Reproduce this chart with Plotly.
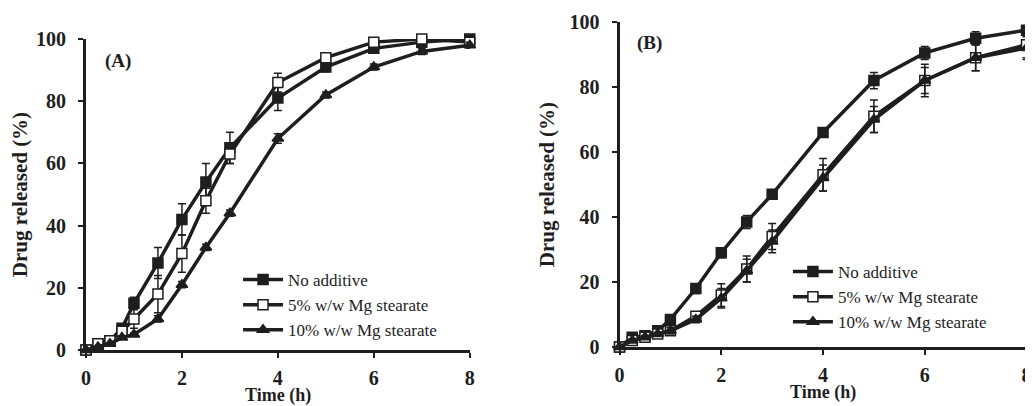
import plotly.graph_objects as go

time_h = [0, 0.25, 0.5, 0.75, 1, 1.5, 2, 2.5, 3, 4, 5, 6, 7, 8]

# Panel A
a_none = [0, 2, 3, 7, 15, 28, 42, 54, 65, 81, 91, 97, 99, 100]
a_none_err = [0, 0.5, 0.5, 1, 2, 5, 5, 6, 5, 4, 1.5, 1, 0.5, 0.5]
a_5 = [0, 2, 3, 6, 10, 18, 31, 48, 63, 86, 94, 99, 100, 99]
a_5_err = [0, 0.5, 0.5, 1, 3, 6, 6, 4, 3, 3, 1.5, 1, 0.5, 0.5]
a_10 = [0, 1, 2, 4, 5, 10, 21, 33, 44, 68, 82, 91, 96, 98]
a_10_err = [0, 0.3, 0.3, 0.5, 0.5, 1, 1, 1, 1, 1.5, 1, 1, 1, 1]

# Panel B
b_none = [0, 3, 3.5, 5, 8.5, 18, 29, 38.5, 47, 66, 82, 90.5, 95, 97.5]
b_none_err = [0, 0.5, 0.5, 0.5, 1, 1.5, 1.5, 2, 1, 1, 2.5, 2, 2, 1]
b_5 = [0, 2, 3, 4, 5, 9.5, 16, 24, 34, 53, 71, 82, 89, 93]
b_5_err = [0, 0.5, 0.5, 0.5, 1, 1, 3.5, 4, 4, 5, 5, 5, 4, 4]
b_10 = [0, 2, 3, 4, 5, 8.5, 15, 23.5, 32.5, 52, 70, 82, 89, 92]
b_10_err = [0, 0.5, 0.5, 0.5, 1, 1, 3, 3.5, 3.5, 4, 4, 4, 4, 3.5]

series_names = ["No additive", "5% w/w Mg stearate", "10% w/w Mg stearate"]
panel_labels = ["(A)", "(B)"]
x_ticks = [0, 2, 4, 6, 8]
y_ticks = [0, 20, 40, 60, 80, 100]
x_title = "Time (h)"
y_title = "Drug released (%)"

INK = "#1e1e1e"
SERIF = "Liberation Serif, Times New Roman, serif"

fig = go.Figure()

marker_styles = [("square", INK), ("square", "white"), ("triangle-up", INK)]
panels = [
    ([a_none, a_5, a_10], [a_none_err, a_5_err, a_10_err], "x", "y", "legend"),
    ([b_none, b_5, b_10], [b_none_err, b_5_err, b_10_err], "x2", "y2", "legend2"),
]
for vals, errs, xa, ya, lg in panels:
    for name, v, e, (sym, fill) in zip(series_names, vals, errs, marker_styles):
        fig.add_trace(go.Scatter(
            x=time_h, y=v, name=name, mode="lines+markers",
            xaxis=xa, yaxis=ya, legend=lg,
            line=dict(color=INK, width=3.5),
            marker=dict(symbol=sym, size=10, color=fill,
                        line=dict(color=INK, width=1.5)),
            error_y=dict(type="data", array=e, color=INK, thickness=1.5, width=4),
            cliponaxis=False,
        ))

axis_common = dict(
    showgrid=False, zeroline=False, showline=True, linecolor=INK, linewidth=3,
    ticks="outside", ticklen=5, tickwidth=2, tickcolor=INK, automargin=False,
    tickfont=dict(family=SERIF, size=20, color=INK),
)
ytitle = dict(text=f"<b>{y_title}</b>", font=dict(family=SERIF, size=21, color=INK), standoff=10)

fig.update_layout(
    width=1033, height=406,
    margin=dict(l=0, r=0, t=0, b=0, autoexpand=False),
    paper_bgcolor="white", plot_bgcolor="white",
    showlegend=True,
    xaxis=dict(domain=[0.0755, 0.447], range=[0, 8], tickvals=x_ticks, ticklabelstandoff=3,
               ticktext=[f"<b>{t}</b>" for t in x_ticks], anchor="y", **axis_common),
    yaxis=dict(domain=[0.1576, 0.9236], range=[0, 100], tickvals=y_ticks, ticklabelstandoff=8,
               ticktext=[f"<b>{t}</b>" for t in y_ticks], title=ytitle, anchor="x", **axis_common),
    xaxis2=dict(domain=[0.592, 0.986], range=[0, 8], tickvals=x_ticks, ticklabelstandoff=3,
                ticktext=[f"<b>{t}</b>" for t in x_ticks], anchor="y2", **axis_common),
    yaxis2=dict(domain=[0.165, 0.9655], range=[0, 100], tickvals=y_ticks, ticklabelstandoff=8,
                ticktext=[f"<b>{t}</b>" for t in y_ticks], title=ytitle, anchor="x2", **axis_common),
    legend=dict(x=0.2227, y=0.2685, xanchor="left", yanchor="middle", bgcolor="rgba(0,0,0,0)",
                font=dict(family=SERIF, size=17, color=INK), itemwidth=40, tracegroupgap=0),
    legend2=dict(x=0.755, y=0.288, xanchor="left", yanchor="middle", bgcolor="rgba(0,0,0,0)",
                 font=dict(family=SERIF, size=17, color=INK), itemwidth=40, tracegroupgap=0),
    annotations=[
        dict(text=f"<b>{panel_labels[0]}</b>", x=0.35, y=93, xref="x", yref="y", showarrow=False,
             xanchor="left", yanchor="middle", font=dict(family=SERIF, size=19, color=INK)),
        dict(text=f"<b>{panel_labels[1]}</b>", x=0.3, y=93.5, xref="x2", yref="y2", showarrow=False,
             xanchor="left", yanchor="middle", font=dict(family=SERIF, size=19, color=INK)),
        dict(text=f"<b>{x_title}</b>", x=0.5, y=0.045, xref="x domain", yref="paper", showarrow=False,
             xanchor="center", yanchor="middle", font=dict(family=SERIF, size=18, color=INK)),
        dict(text=f"<b>{x_title}</b>", x=0.5, y=0.053, xref="x2 domain", yref="paper", showarrow=False,
             xanchor="center", yanchor="middle", font=dict(family=SERIF, size=18, color=INK)),
    ],
)

fig.write_html("out.html")
